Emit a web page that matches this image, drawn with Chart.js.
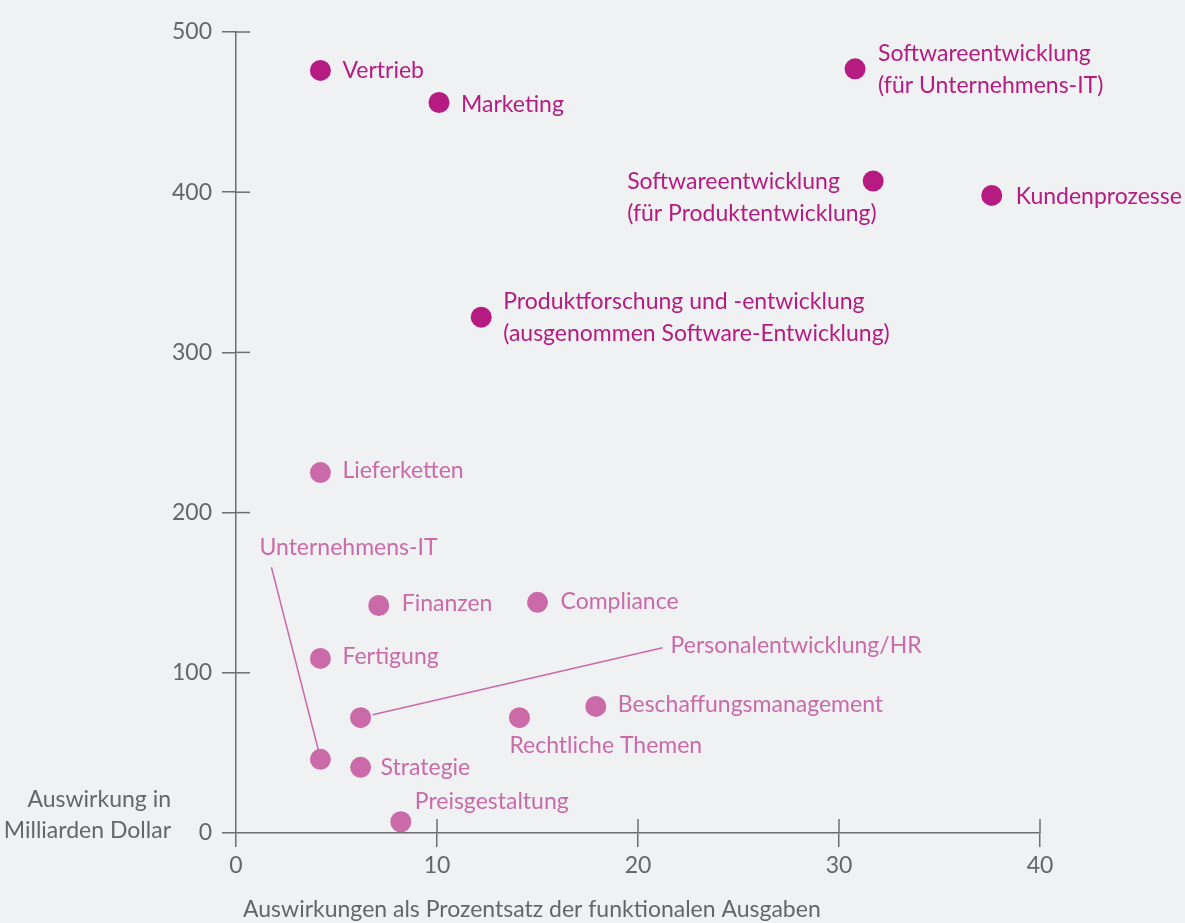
<!DOCTYPE html>
<html>
<head>
<meta charset="utf-8">
<script src="https://cdn.jsdelivr.net/npm/chart.js@4/dist/chart.umd.min.js"></script>
<style>
  body { margin: 0; background: #f0f1f3; }
  #wrap { width: 1185px; height: 923px; position: relative; }
</style>
</head>
<body>
<div id="wrap"><canvas id="scatter"></canvas></div>
<script>
// Funktionen, Anteil an funktionalen Ausgaben (%) und Auswirkung (Mrd. Dollar)
var functions = [
  ['Vertrieb'],
  ['Marketing'],
  ['Softwareentwicklung', '(für Unternehmens-IT)'],
  ['Softwareentwicklung', '(für Produktentwicklung)'],
  ['Kundenprozesse'],
  ['Produktforschung und -entwicklung', '(ausgenommen Software-Entwicklung)'],
  ['Lieferketten'],
  ['Unternehmens-IT'],
  ['Finanzen'],
  ['Compliance'],
  ['Fertigung'],
  ['Personalentwicklung/HR'],
  ['Rechtliche Themen'],
  ['Beschaffungsmanagement'],
  ['Strategie'],
  ['Preisgestaltung']
];
var pctSpend = [4.2, 10.1, 30.8, 31.7, 37.6, 12.2, 4.2, 4.2, 7.1, 15.0, 4.2, 6.2, 14.1, 17.9, 6.2, 8.2];
var impact   = [476, 456, 477, 407, 398, 322, 225, 46, 142, 144, 109, 72, 72, 79, 41, 7];
var highImpact = [true, true, true, true, true, true, false, false, false, false, false, false, false, false, false, false];

var xTicks = [0, 10, 20, 30, 40];
var yTicks = [0, 100, 200, 300, 400, 500];

var DARK = '#b51b80';
var LIGHT = '#ca6aa9';
var AXIS = '#6e6e6e';
var TEXT = '#666666';
var FONT = 'Lato';
var FSIZE = 23;

// label placement relative to the dot (pixels)
var labelPos = {
  'Vertrieb': { dx: 22, dy: 0 },
  'Marketing': { dx: 22, dy: 2 },
  'Softwareentwicklung|(für Unternehmens-IT)': { dx: 23, dy: -15 },
  'Softwareentwicklung|(für Produktentwicklung)': { dx: -246, dy: 1 },
  'Kundenprozesse': { dx: 24, dy: 1 },
  'Produktforschung und -entwicklung|(ausgenommen Software-Entwicklung)': { dx: 22, dy: -16 },
  'Lieferketten': { dx: 22, dy: -2 },
  'Unternehmens-IT': { dx: -61, dy: -212, lead: [-2, -9, -49, -192] },
  'Finanzen': { dx: 23, dy: -2 },
  'Compliance': { dx: 23, dy: -1 },
  'Fertigung': { dx: 22, dy: -2 },
  'Personalentwicklung/HR': { dx: 310, dy: -72, lead: [12, -3, 302, -70] },
  'Rechtliche Themen': { dx: -10, dy: 28 },
  'Beschaffungsmanagement': { dx: 22, dy: -2 },
  'Strategie': { dx: 20, dy: 0 },
  'Preisgestaltung': { dx: 14, dy: -20 }
};

function points(flag) {
  var out = [];
  for (var i = 0; i < functions.length; i++) {
    if (highImpact[i] === flag) out.push({ x: pctSpend[i], y: impact[i], lines: functions[i] });
  }
  return out;
}

var labelPlugin = {
  id: 'pointLabels',
  afterDatasetsDraw: function(chart) {
    var ctx = chart.ctx;
    ctx.save();
    ctx.font = FSIZE + 'px "' + FONT + '"';
    ctx.textBaseline = 'middle';
    chart.data.datasets.forEach(function(ds, di) {
      var meta = chart.getDatasetMeta(di);
      meta.data.forEach(function(el, i) {
        var p = ds.data[i];
        var pos = labelPos[p.lines.join('|')] || { dx: 22, dy: 0 };
        ctx.fillStyle = ds.backgroundColor;
        ctx.strokeStyle = ds.backgroundColor;
        ctx.textAlign = pos.align || 'left';
        p.lines.forEach(function(line, li) {
          ctx.fillText(line, el.x + pos.dx, el.y + pos.dy + li * 32);
        });
        if (pos.lead) {
          ctx.lineWidth = 1.5;
          ctx.beginPath();
          ctx.moveTo(el.x + pos.lead[0], el.y + pos.lead[1]);
          ctx.lineTo(el.x + pos.lead[2], el.y + pos.lead[3]);
          ctx.stroke();
        }
      });
    });
    ctx.restore();
  }
};

var axisPlugin = {
  id: 'axisExtras',
  afterDraw: function(chart) {
    var ctx = chart.ctx;
    var xs = chart.scales.x, ys = chart.scales.y;
    var area = chart.chartArea;
    ctx.save();
    ctx.strokeStyle = AXIS;
    ctx.lineWidth = 1.5;
    // inner halves of the tick marks
    xTicks.forEach(function(v) {
      if (v === 0) return;
      var px = xs.getPixelForValue(v);
      ctx.beginPath();
      ctx.moveTo(px, area.bottom);
      ctx.lineTo(px, area.bottom - 14);
      ctx.stroke();
    });
    yTicks.forEach(function(v) {
      if (v === 0) return;
      var py = ys.getPixelForValue(v);
      ctx.beginPath();
      ctx.moveTo(area.left, py);
      ctx.lineTo(area.left + 14, py);
      ctx.stroke();
    });
    // axis titles
    ctx.fillStyle = TEXT;
    ctx.font = FSIZE + 'px "' + FONT + '"';
    ctx.textBaseline = 'middle';
    ctx.textAlign = 'right';
    ctx.fillText('Auswirkung in', 171, 800);
    ctx.fillText('Milliarden Dollar', 171, 831);
    ctx.textAlign = 'left';
    ctx.fillText('Auswirkungen als Prozentsatz der funktionalen Ausgaben', 243, 910);
    ctx.restore();
  }
};

new Chart(document.getElementById('scatter'), {
  type: 'scatter',
  data: {
    datasets: [
      { label: 'hoch', data: points(true), backgroundColor: DARK, pointRadius: 10.5, pointHoverRadius: 10.5, borderWidth: 0 },
      { label: 'niedrig', data: points(false), backgroundColor: LIGHT, pointRadius: 10.5, pointHoverRadius: 10.5, borderWidth: 0 }
    ]
  },
  options: {
    responsive: true,
    maintainAspectRatio: false,
    animation: false,
    events: [],
    layout: { padding: { top: 32, right: 145, left: 0, bottom: 0 } },
    plugins: { legend: { display: false }, tooltip: { enabled: false } },
    scales: {
      x: {
        type: 'linear', min: 0, max: 40,
        afterFit: function(s) { s.height = 90; },
        afterBuildTicks: function(s) { s.ticks = xTicks.map(function(v) { return { value: v }; }); },
        border: { display: true, color: AXIS, width: 1.5 },
        grid: { drawOnChartArea: false, drawTicks: true, tickLength: 14, color: AXIS, lineWidth: 1.5 },
        ticks: { color: TEXT, font: { family: FONT, size: FSIZE }, padding: 5, maxRotation: 0 }
      },
      y: {
        type: 'linear', min: 0, max: 500,
        afterFit: function(s) { s.width = 236; },
        afterBuildTicks: function(s) { s.ticks = yTicks.map(function(v) { return { value: v }; }); },
        border: { display: true, color: AXIS, width: 1.5 },
        grid: { drawOnChartArea: false, drawTicks: true, tickLength: 14, color: AXIS, lineWidth: 1.5 },
        ticks: { color: TEXT, font: { family: FONT, size: FSIZE }, padding: 10 }
      }
    }
  },
  plugins: [labelPlugin, axisPlugin]
});
</script>
</body>
</html>
